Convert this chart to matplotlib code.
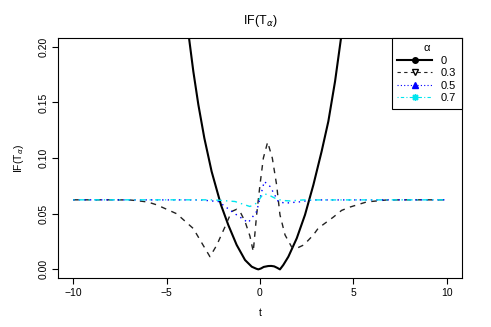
import matplotlib
matplotlib.use('Agg')
import matplotlib.pyplot as plt
from matplotlib.lines import Line2D

plt.rcParams['font.family'] = ['Liberation Sans', 'DejaVu Sans']

# alpha = 0 (solid black)
t0 = [-4.3, -3.80, -3.57, -3.30, -2.98, -2.59, -2.09, -1.70, -1.25, -0.80, -0.44,
      -0.20, -0.09, 0.05, 0.20, 0.44, 0.60, 0.76, 0.92, 1.07, 1.25, 1.52, 1.97,
      2.41, 2.86, 3.30, 3.66, 4.02, 4.34, 4.7]
f0 = [0.26, 0.208, 0.178, 0.148, 0.118, 0.088, 0.058, 0.040, 0.022, 0.0084, 0.0024,
      0.0006, 0.000, 0.0008, 0.0022, 0.003, 0.0031, 0.0027, 0.0014, 0.000, 0.004, 0.0114, 0.028,
      0.049, 0.076, 0.106, 0.133, 0.169, 0.208, 0.25]

# alpha = 0.3 (dashed black)
t3 = [-10, -8, -7.0, -6.6, -6.0, -5.53, -4.46, -3.57, -3.04, -2.68, -2.32, -1.88,
      -1.52, -1.25, -1.07, -0.80, -0.54, -0.36, -0.18, 0.0, 0.18, 0.41, 0.66,
      0.89, 1.07, 1.34, 1.70, 1.97, 2.35, 2.86, 3.12, 3.93, 4.37, 4.82, 5.71,
      6.79, 8, 10]
f3 = [0.0625, 0.0625, 0.0624, 0.0618, 0.0605, 0.058, 0.050, 0.0367, 0.0216, 0.0114, 0.0216, 0.038,
      0.052, 0.054, 0.052, 0.043, 0.030, 0.016, 0.049, 0.076, 0.100, 0.1144, 0.100,
      0.076, 0.049, 0.031, 0.020, 0.019, 0.022, 0.031, 0.037, 0.047, 0.053, 0.056, 0.0606,
      0.0624, 0.0625, 0.0625]

# alpha = 0.5 (dotted blue)
t5 = [-10, -3.2, -2.23, -1.34, -0.63, -0.18, 0.23, 0.54, 0.98, 1.34, 2.14, 2.8, 10]
f5 = [0.0625, 0.0624, 0.061, 0.050, 0.042, 0.052, 0.079, 0.0745, 0.061, 0.0595, 0.0607, 0.0624, 0.0625]

# alpha = 0.7 (dot-dash cyan)
t7 = [-10, -2.5, -1.34, -0.54, -0.18, 0.18, 0.45, 0.80, 1.16, 1.6, 2.3, 10]
f7 = [0.0625, 0.0625, 0.061, 0.0565, 0.0595, 0.068, 0.067, 0.064, 0.062, 0.0615, 0.0624, 0.0625]

alphas = ['0', '0.3', '0.5', '0.7']

fig = plt.figure(figsize=(4.91, 3.27), dpi=100)
ax = fig.add_axes([0.1187, 0.149, 0.8216, 0.735])

ax.plot(t0, f0, color='black', lw=1.5, solid_joinstyle='round')
ax.plot(t3, f3, color='#222222', lw=1.0, dashes=(4, 4))
ax.plot(t5, f5, color='blue', lw=1.0, dashes=(1, 3))
ax.plot(t7, f7, color='#00e5ee', lw=1.0, dashes=(1, 3, 4, 3))

ax.set_xlim(-10.8, 10.8)
ax.set_ylim(-0.008, 0.208)
ax.set_xticks([-10, -5, 0, 5, 10])
ax.set_xticklabels(['\u221210', '\u22125', '0', '5', '10'])
ax.set_yticks([0.0, 0.05, 0.10, 0.15, 0.20])
ax.set_yticklabels(['0.00', '0.05', '0.10', '0.15', '0.20'], rotation=90, va='center')
ax.tick_params(direction='out', length=4, width=0.8, labelsize=7.5, pad=3)
for s in ax.spines.values():
    s.set_linewidth(0.8)

ax.set_title('IF(T$_\\alpha$)', fontsize=9, pad=10)
ax.set_xlabel('t', fontsize=7.5, labelpad=7)
ax.set_ylabel('IF(T$_\\alpha$)', fontsize=7.5, labelpad=9)

handles = [
    Line2D([], [], color='black', lw=1.5, marker='o', markersize=4),
    Line2D([], [], color='#222222', lw=0.8, dashes=(3, 3), marker='v',
           markerfacecolor='white', markeredgecolor='black', markersize=5),
    Line2D([], [], color='blue', lw=0.8, dashes=(1, 2), marker='^', markersize=5),
    Line2D([], [], color='#00e5ee', lw=0.8, dashes=(1, 2, 3, 2), marker=(8, 2, 0),
           markersize=5),
]
leg = ax.legend(handles, alphas, loc='upper right', title='\u03b1', fontsize=8,
                title_fontsize=8, borderaxespad=0, handlelength=3.1,
                handletextpad=0.8, labelspacing=0.22, borderpad=0.5,
                fancybox=False, framealpha=1, edgecolor='black')
leg.get_frame().set_linewidth(0.8)

fig.savefig('out.png', dpi=100)
